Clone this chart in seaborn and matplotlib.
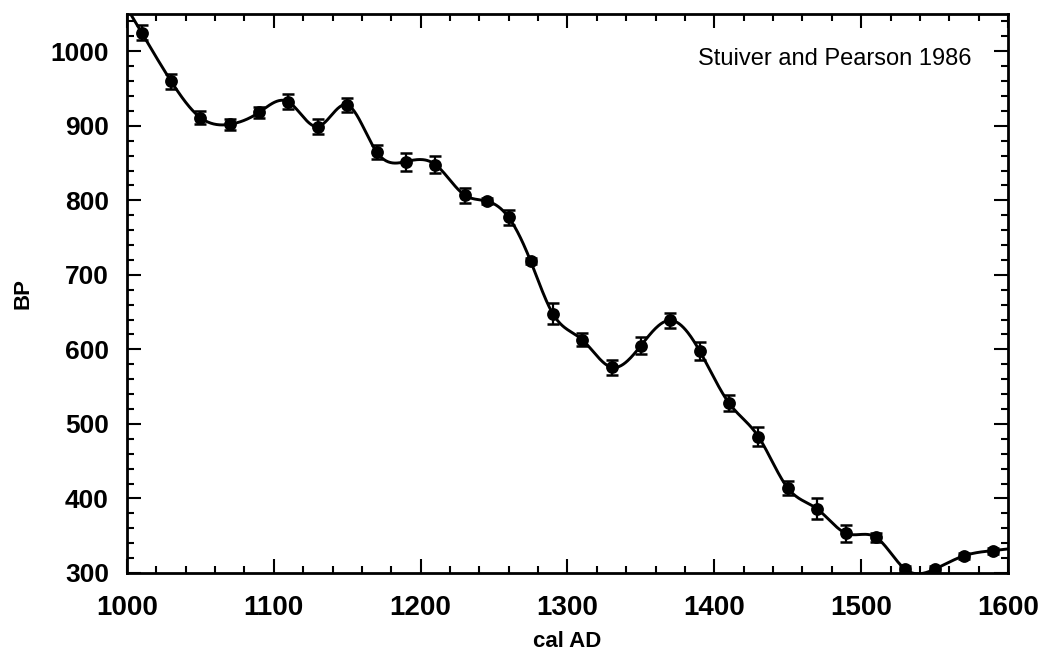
import numpy as np
import pandas as pd
import matplotlib
matplotlib.use("Agg")
import matplotlib.pyplot as plt
import seaborn as sns
from matplotlib.ticker import MultipleLocator

# Stuiver and Pearson 1986 calibration points
cal_ad = [1010, 1030, 1050, 1070, 1090, 1110, 1130, 1150, 1170, 1190,
          1210, 1230, 1245, 1260, 1275, 1290, 1310, 1330, 1350, 1370,
          1390, 1410, 1430, 1450, 1470, 1490, 1510, 1530, 1550, 1570, 1590]
bp = [1025, 960, 911, 902, 918, 932, 899, 928, 865, 852,
      848, 807, 799, 777, 718, 648, 613, 576, 605, 639,
      598, 528, 483, 414, 386, 353, 348, 305, 305, 323, 330]
bp_err = [10, 10, 9, 7, 7, 10, 10, 9, 9, 12,
          12, 10, 4, 10, 4, 14, 9, 10, 11, 10,
          12, 11, 13, 10, 14, 12, 6, 4, 4, 4, 4]


def natural_spline(x, y, xnew):
    # natural cubic spline, end segments extended for extrapolation
    x = np.asarray(x, float)
    y = np.asarray(y, float)
    n = len(x)
    h = np.diff(x)
    A = np.zeros((n, n))
    r = np.zeros(n)
    A[0, 0] = 1
    A[-1, -1] = 1
    for i in range(1, n - 1):
        A[i, i - 1] = h[i - 1]
        A[i, i] = 2 * (h[i - 1] + h[i])
        A[i, i + 1] = h[i]
        r[i] = 3 * ((y[i + 1] - y[i]) / h[i] - (y[i] - y[i - 1]) / h[i - 1])
    c = np.linalg.solve(A, r)
    b = (y[1:] - y[:-1]) / h - h * (2 * c[:-1] + c[1:]) / 3
    d = (c[1:] - c[:-1]) / (3 * h)
    idx = np.clip(np.searchsorted(x, xnew) - 1, 0, n - 2)
    t = xnew - x[idx]
    return y[idx] + b[idx] * t + c[idx] * t ** 2 + d[idx] * t ** 3


sns.set_theme(style="ticks")
plt.rcParams['font.family'] = ['Liberation Sans', 'DejaVu Sans']
plt.rcParams['text.color'] = 'black'
plt.rcParams['xtick.labelcolor'] = 'black'
plt.rcParams['ytick.labelcolor'] = 'black'
plt.rcParams['axes.labelcolor'] = 'black'

fig = plt.figure(figsize=(10.44, 6.57), dpi=100)
ax = fig.add_axes([0.1216, 0.1279, 0.8439, 0.8508])

xs = np.linspace(1000, 1600, 1201)
curve = pd.DataFrame({'cal AD': xs, 'BP': natural_spline(cal_ad, bp, xs)})
points = pd.DataFrame({'cal AD': cal_ad, 'BP': bp, 'err': bp_err})

sns.lineplot(data=curve, x='cal AD', y='BP', color='black', linewidth=2.1,
             estimator=None, sort=False, ax=ax)
ax.errorbar(points['cal AD'], points['BP'], yerr=points['err'], fmt='none',
            ecolor='black', elinewidth=1.6, capsize=4.2, capthick=1.8)
sns.scatterplot(data=points, x='cal AD', y='BP', color='black', s=85,
                edgecolor='black', linewidth=0, zorder=5, ax=ax)

ax.set_xlim(1000, 1600)
ax.set_ylim(300, 1050)
ax.xaxis.set_major_locator(MultipleLocator(100))
ax.xaxis.set_minor_locator(MultipleLocator(20))
ax.yaxis.set_major_locator(MultipleLocator(100))
ax.yaxis.set_minor_locator(MultipleLocator(20))
ax.tick_params(which='both', direction='in', top=True, right=True,
               width=1.5, color='black')
ax.tick_params(which='major', length=10)
ax.tick_params(which='minor', length=5)
ax.tick_params(axis='x', which='major', labelsize=20, pad=16)
ax.tick_params(axis='y', which='major', labelsize=19, pad=13)
for lab in ax.get_xticklabels() + ax.get_yticklabels():
    lab.set_fontweight('bold')
for s in ax.spines.values():
    s.set_linewidth(2)
    s.set_color('black')

ax.set_xlabel('cal AD', fontsize=16, fontweight='bold', labelpad=7)
ax.set_ylabel('BP', fontsize=16, fontweight='bold', labelpad=12)
ax.text(0.959, 0.919, 'Stuiver and Pearson 1986', transform=ax.transAxes,
        ha='right', va='center', fontsize=17, color='black')

fig.savefig('out.png', dpi=100)
